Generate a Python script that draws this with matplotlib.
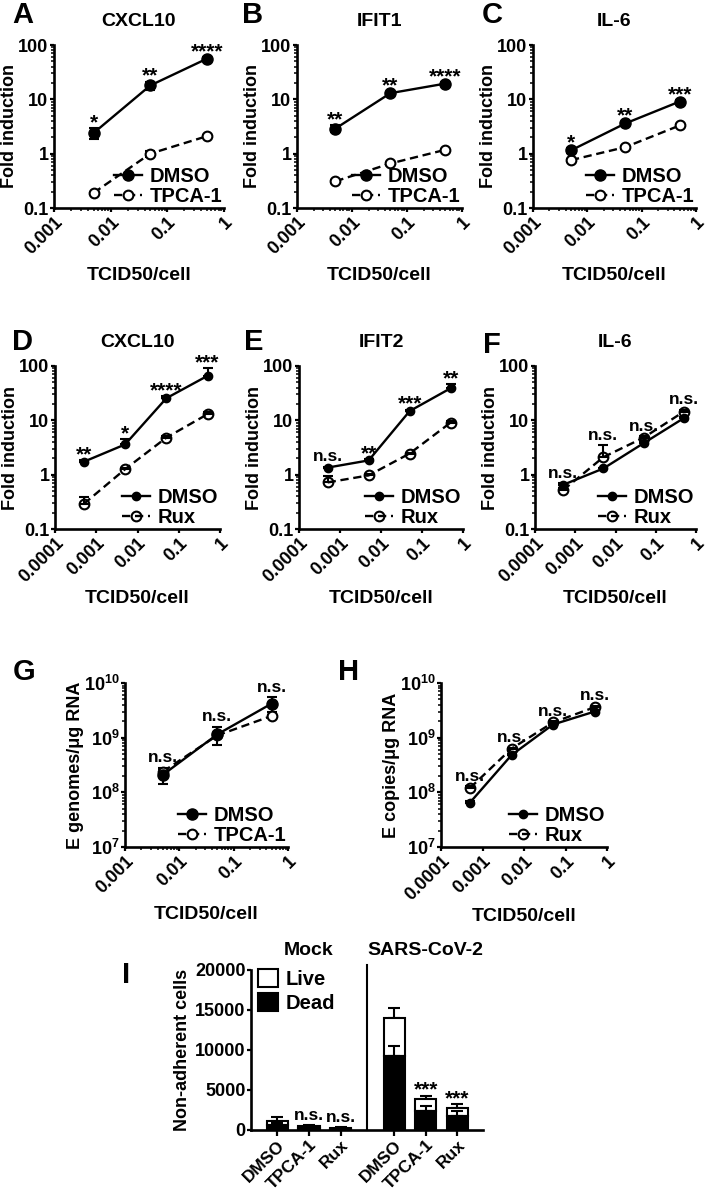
import numpy as np
import matplotlib
matplotlib.use('Agg')
import matplotlib.pyplot as plt
from matplotlib.ticker import LogLocator, NullFormatter

plt.rcParams['font.family'] = ['Liberation Sans', 'DejaVu Sans']
plt.rcParams['font.weight'] = 'bold'
plt.rcParams['axes.labelweight'] = 'bold'
plt.rcParams['axes.titleweight'] = 'bold'
plt.rcParams['mathtext.fontset'] = 'custom'
plt.rcParams['mathtext.rm'] = 'Liberation Sans:bold'
plt.rcParams['mathtext.bf'] = 'Liberation Sans:bold'
plt.rcParams['mathtext.default'] = 'bf'

# ---- data ----
dose3 = [0.005, 0.05, 0.5]
dose4 = [0.0005, 0.005, 0.05, 0.5]

x3_ticks = [0.001, 0.01, 0.1, 1]
x3_labels = ['0.001', '0.01', '0.1', '1']
x4_ticks = [0.0001, 0.001, 0.01, 0.1, 1]
x4_labels = ['0.0001', '0.001', '0.01', '0.1', '1']
fold_ticks = [0.1, 1, 10, 100]
fold_labels = ['0.1', '1', '10', '100']
copy_ticks = [1e7, 1e8, 1e9, 1e10]
copy_labels = [r'$10^{7}$', r'$10^{8}$', r'$10^{9}$', r'$10^{10}$']

# A  CXCL10, TPCA-1
a_dmso = [2.4, 18, 56]
a_dmso_err = [0.55, 3.2, 3]
a_tpca = [0.19, 1.0, 2.1]
a_tpca_err = [0.01, 0.13, 0.1]
a_sig = ['*', '**', '****']

# B  IFIT1, TPCA-1
b_dmso = [2.9, 13, 19.5]
b_dmso_err = [0.4, 0.8, 1.0]
b_tpca = [0.31, 0.66, 1.18]
b_tpca_err = [0.02, 0.05, 0.05]
b_sig = ['**', '**', '****']

# C  IL-6, TPCA-1
c_dmso = [1.15, 3.6, 9.1]
c_dmso_err = [0.1, 0.3, 0.6]
c_tpca = [0.76, 1.32, 3.3]
c_tpca_err = [0.05, 0.08, 0.2]
c_sig = ['*', '**', '***']

# D  CXCL10, Rux
d_dmso = [1.73, 3.6, 25.5, 66]
d_dmso_err = [0.1, 0.85, 2, 26]
d_rux = [0.29, 1.26, 4.8, 13]
d_rux_err = [0.1, 0.08, 0.4, 1]
d_sig = ['**', '*', '****', '***']

# E  IFIT2, Rux
e_dmso = [1.35, 1.83, 14.8, 39]
e_dmso_err = [0.05, 0.1, 1, 7]
e_rux = [0.72, 0.97, 2.45, 9.1]
e_rux_err = [0.22, 0.05, 0.1, 0.5]
e_sig = ['n.s.', '**', '***', '**']

# F  IL-6, Rux
f_dmso = [0.65, 1.3, 3.8, 11]
f_dmso_err = [0.05, 0.05, 0.2, 0.5]
f_rux = [0.52, 2.1, 4.8, 14.5]
f_rux_err = [0.05, 1.4, 0.3, 1]
f_sig = ['n.s.', 'n.s.', 'n.s.', 'n.s.']

# G  E genomes, TPCA-1
g_dmso = [2.1e8, 1.15e9, 4.2e9]
g_dmso_err = [0.7e8, 0.42e9, 1.3e9]
g_tpca = [2.4e8, 1.1e9, 2.5e9]
g_tpca_err = [0.3e8, 0.1e9, 0.1e9]
g_sig = ['n.s.', 'n.s.', 'n.s.']

# H  E copies, Rux
h_dmso = [6.5e7, 4.8e8, 1.74e9, 3.0e9]
h_dmso_err = [0.3e7, 0.3e8, 0.1e9, 0.2e9]
h_rux = [1.2e8, 6.3e8, 1.9e9, 3.6e9]
h_rux_err = [0.1e8, 0.3e8, 0.1e9, 0.2e9]
h_sig = ['n.s.', 'n.s.', 'n.s.', 'n.s.']

# I  non-adherent cells
i_groups = ['Mock', 'SARS-CoV-2']
i_labels = ['DMSO', 'TPCA-1', 'Rux', 'DMSO', 'TPCA-1', 'Rux']
i_dead = [600, 300, 150, 9200, 2400, 1800]
i_dead_err = [300, 100, 50, 1300, 600, 600]
i_live = [500, 150, 100, 4800, 1500, 1000]
i_total_err = [500, 150, 80, 1250, 400, 400]
i_sig = ['', 'n.s.', 'n.s.', '', '***', '***']
i_yticks = [0, 5000, 10000, 15000, 20000]

W, H = 709, 1195
fig = plt.figure(figsize=(W / 100, H / 100), dpi=100)


def px_axes(x0, y0, x1, y1):
    return fig.add_axes([x0 / W, 1 - y1 / H, (x1 - x0) / W, (y1 - y0) / H])


def letter(x, y, s):
    fig.text(x / W, 1 - y / H, s, fontsize=21, ha='center', va='center')


def style_axes(ax):
    for s in ['top', 'right']:
        ax.spines[s].set_visible(False)
    for s in ['left', 'bottom']:
        ax.spines[s].set_linewidth(1.9)
    ax.tick_params(which='major', length=3.2, width=1.6, pad=0.8, labelsize=13)
    ax.tick_params(which='minor', length=2.2, width=1.1)


def sig_text(ax, x, y, s):
    star = '*' in s
    ax.annotate(s, (x, y), xytext=(0, 0 if star else 4), textcoords='offset points',
                ha='center', va='baseline', fontsize=15 if star else 12.5)


def dose_panel(box, dose, dmso, dmso_err, trt, trt_err, sig, trt_name,
               xt, xl, yt, yl, ylabel, title=None, small=False):
    ax = px_axes(*box)
    style_axes(ax)
    ax.set_xscale('log')
    ax.set_yscale('log')
    ax.set_xlim(xt[0], xt[-1])
    ax.set_ylim(yt[0], yt[-1])
    ms_fill = 6 if small else 8
    face = 'none' if small else 'white'
    # Rux panels show only the upper half of the error bars
    lo = np.zeros(len(dose))
    e_trt = [lo, trt_err] if small else trt_err
    e_dmso = [lo, dmso_err] if small else dmso_err
    ax.errorbar(dose, trt, yerr=e_trt, fmt='none', ecolor='black',
                elinewidth=1.5, capsize=3.5, capthick=1.5, zorder=2, clip_on=False)
    ax.errorbar(dose, dmso, yerr=e_dmso, fmt='none', ecolor='black',
                elinewidth=1.5, capsize=3.5, capthick=1.5, zorder=3, clip_on=False)
    ax.plot(dose, trt, color='black', lw=1.7, ls=(0, (3.5, 2)), marker='o',
            ms=7, mfc=face, mec='black', mew=1.5, zorder=4,
            label=trt_name, clip_on=False)
    ax.plot(dose, dmso, color='black', lw=1.7, marker='o', ms=ms_fill,
            mfc='black', mec='black', zorder=5, label='DMSO', clip_on=False)
    ax.set_xticks(xt, xl, rotation=45, ha='right', rotation_mode='anchor')
    ax.set_yticks(yt, yl)
    ax.xaxis.set_minor_locator(LogLocator(base=10, subs=np.arange(2, 10)))
    ax.yaxis.set_minor_locator(LogLocator(base=10, subs=np.arange(2, 10)))
    ax.xaxis.set_minor_formatter(NullFormatter())
    ax.yaxis.set_minor_formatter(NullFormatter())
    ax.set_xlabel('TCID50/cell', fontsize=14, labelpad=3 if len(xt) > 4 else 7)
    ax.set_ylabel(ylabel, fontsize=13, labelpad=0)
    if title:
        ax.set_title(title, fontsize=14, pad=14)
    tops = np.maximum(np.add(dmso, dmso_err), np.add(trt, trt_err))
    for x, t, s in zip(dose, tops, sig):
        sig_text(ax, x, t, s)
    h, l = ax.get_legend_handles_labels()
    ax.legend(h[::-1], l[::-1], loc='lower right', frameon=False, fontsize=14.5,
              handlelength=1.4, handletextpad=0.35, labelspacing=0.05,
              borderaxespad=0.0, borderpad=0.1)
    return ax


dose_panel((54, 45, 224, 208), dose3, a_dmso, a_dmso_err, a_tpca, a_tpca_err, a_sig,
           'TPCA-1', x3_ticks, x3_labels, fold_ticks, fold_labels, 'Fold induction', 'CXCL10')
dose_panel((297, 45, 462, 208), dose3, b_dmso, b_dmso_err, b_tpca, b_tpca_err, b_sig,
           'TPCA-1', x3_ticks, x3_labels, fold_ticks, fold_labels, 'Fold induction', 'IFIT1')
dose_panel((533, 45, 696, 208), dose3, c_dmso, c_dmso_err, c_tpca, c_tpca_err, c_sig,
           'TPCA-1', x3_ticks, x3_labels, fold_ticks, fold_labels, 'Fold induction', 'IL-6')
dose_panel((55, 366, 220, 529), dose4, d_dmso, d_dmso_err, d_rux, d_rux_err, d_sig,
           'Rux', x4_ticks, x4_labels, fold_ticks, fold_labels, 'Fold induction', 'CXCL10', small=True)
dose_panel((299, 366, 463, 529), dose4, e_dmso, e_dmso_err, e_rux, e_rux_err, e_sig,
           'Rux', x4_ticks, x4_labels, fold_ticks, fold_labels, 'Fold induction', 'IFIT2', small=True)
dose_panel((535, 366, 696, 529), dose4, f_dmso, f_dmso_err, f_rux, f_rux_err, f_sig,
           'Rux', x4_ticks, x4_labels, fold_ticks, fold_labels, 'Fold induction', 'IL-6', small=True)
dose_panel((125, 683, 288, 847), dose3, g_dmso, g_dmso_err, g_tpca, g_tpca_err, g_sig,
           'TPCA-1', x3_ticks, x3_labels, copy_ticks, copy_labels, 'E genomes/μg RNA')
dose_panel((441, 683, 607, 847), dose4, h_dmso, h_dmso_err, h_rux, h_rux_err, h_sig,
           'Rux', x4_ticks, x4_labels, copy_ticks, copy_labels, 'E copies/μg RNA', small=True)

# ---- panel I ----
ax = px_axes(251, 970, 483, 1130)
style_axes(ax)
gap = 0.7
xpos = np.concatenate([np.arange(3), np.arange(3) + 3 + gap])
total = np.add(i_dead, i_live)
ax.bar(xpos, i_live, bottom=i_dead, width=0.67, color='white', edgecolor='black',
       linewidth=1.5, label='Live', zorder=2)
ax.bar(xpos, i_dead, width=0.67, color='black', edgecolor='black',
       linewidth=1.5, label='Dead', zorder=2)
ax.errorbar(xpos, total, yerr=[np.zeros(6), i_total_err], fmt='none', ecolor='black',
            elinewidth=1.5, capsize=4.5, capthick=1.5, zorder=1)
ax.errorbar(xpos, i_dead, yerr=[np.zeros(6), i_dead_err], fmt='none', ecolor='black',
            elinewidth=1.5, capsize=4.5, capthick=1.5, zorder=3)
ax.set_xlim(xpos[0] - 0.84, xpos[-1] + 0.82)
ax.set_ylim(i_yticks[0], i_yticks[-1])
ax.set_yticks(i_yticks, [str(v) for v in i_yticks])
ax.set_xticks(xpos, i_labels, rotation=45, ha='right', rotation_mode='anchor', fontsize=12.5)
ax.set_ylabel('Non-adherent cells', fontsize=13, labelpad=3)
ax.tick_params(axis='x', length=4.5)
for x, t, e, s in zip(xpos, total, i_total_err, i_sig):
    if s:
        sig_text(ax, x, t + e, s)
xdiv = (xpos[2] + xpos[3]) / 2
ax.plot([xdiv, xdiv], [i_yticks[0], i_yticks[-1] * 1.03], color='black', lw=1.5, clip_on=False)
ax.text(np.mean(xpos[:3]), 1.07, i_groups[0], transform=ax.get_xaxis_transform(),
        ha='center', va='bottom', fontsize=14)
ax.text(np.mean(xpos[3:]), 1.07, i_groups[1], transform=ax.get_xaxis_transform(),
        ha='center', va='bottom', fontsize=14)
h, l = ax.get_legend_handles_labels()
ax.legend(h, l, loc='upper left', bbox_to_anchor=(0.02, 1.02), frameon=False, fontsize=14.5,
          handlelength=1.0, handleheight=1.0, handletextpad=0.4, labelspacing=0.2,
          borderaxespad=0.0, borderpad=0.1)

# panel letters
for (x, y, s) in [(23, 15, 'A'), (253, 15, 'B'), (492, 15, 'C'),
                  (23, 342, 'D'), (254, 342, 'E'), (492, 345, 'F'),
                  (24, 672, 'G'), (349, 672, 'H'), (126, 975, 'I')]:
    letter(x, y, s)

fig.savefig('out.png', dpi=100)
